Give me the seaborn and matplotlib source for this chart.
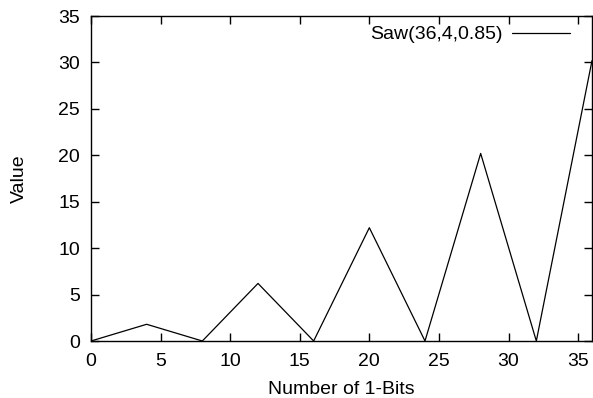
import numpy as np
import pandas as pd
import matplotlib
matplotlib.use("Agg")
import matplotlib.pyplot as plt
import seaborn as sns

# data
bits = [0, 4, 8, 12, 16, 20, 24, 28, 32, 36]
values = [0, 1.8, 0, 6.2, 0, 12.2, 0, 20.2, 0, 30.2]
series_name = "Saw(36,4,0.85)"

x_ticks = [0, 5, 10, 15, 20, 25, 30, 35]
y_ticks = [0, 5, 10, 15, 20, 25, 30, 35]


def main():
    sns.set_style("ticks")
    plt.rcParams['font.family'] = ['Liberation Sans', 'DejaVu Sans']
    plt.rcParams['text.color'] = 'black'
    plt.rcParams['axes.labelcolor'] = 'black'

    df = pd.DataFrame({"bits": bits, "value": values, "series": series_name})

    fig = plt.figure(figsize=(5.93, 3.98), dpi=100)
    ax = fig.add_axes([91 / 593, 57 / 398, 501 / 593, 325 / 398])

    sns.lineplot(data=df, x="bits", y="value", hue="series",
                 palette=["black"], linewidth=0.9, ax=ax)

    ax.set_xlim(0, 36)
    ax.set_ylim(0, 35)
    ax.set_xticks(x_ticks)
    ax.set_yticks(y_ticks)
    ax.tick_params(direction="in", top=True, right=True, length=6,
                   width=1, labelsize=14, colors="black")
    ax.tick_params(axis="x", pad=9)
    ax.tick_params(axis="y", pad=8)
    for side in ax.spines.values():
        side.set_visible(True)
        side.set_linewidth(1)
        side.set_color("black")

    ax.set_xlabel("Number of 1-Bits", fontsize=14, va="baseline")
    ax.set_ylabel("Value", fontsize=14)
    ax.xaxis.set_label_coords(0.5, -0.163)
    ax.yaxis.set_label_coords(-0.126, 0.5)

    leg = ax.legend(loc="upper right", frameon=False, markerfirst=False,
                    fontsize=14, handlelength=3, borderaxespad=0,
                    handletextpad=0.5, bbox_to_anchor=(0.972, 0.994))
    for line in leg.get_lines():
        line.set_linewidth(0.9)

    fig.savefig("out.png", dpi=100)


if __name__ == "__main__":
    main()
